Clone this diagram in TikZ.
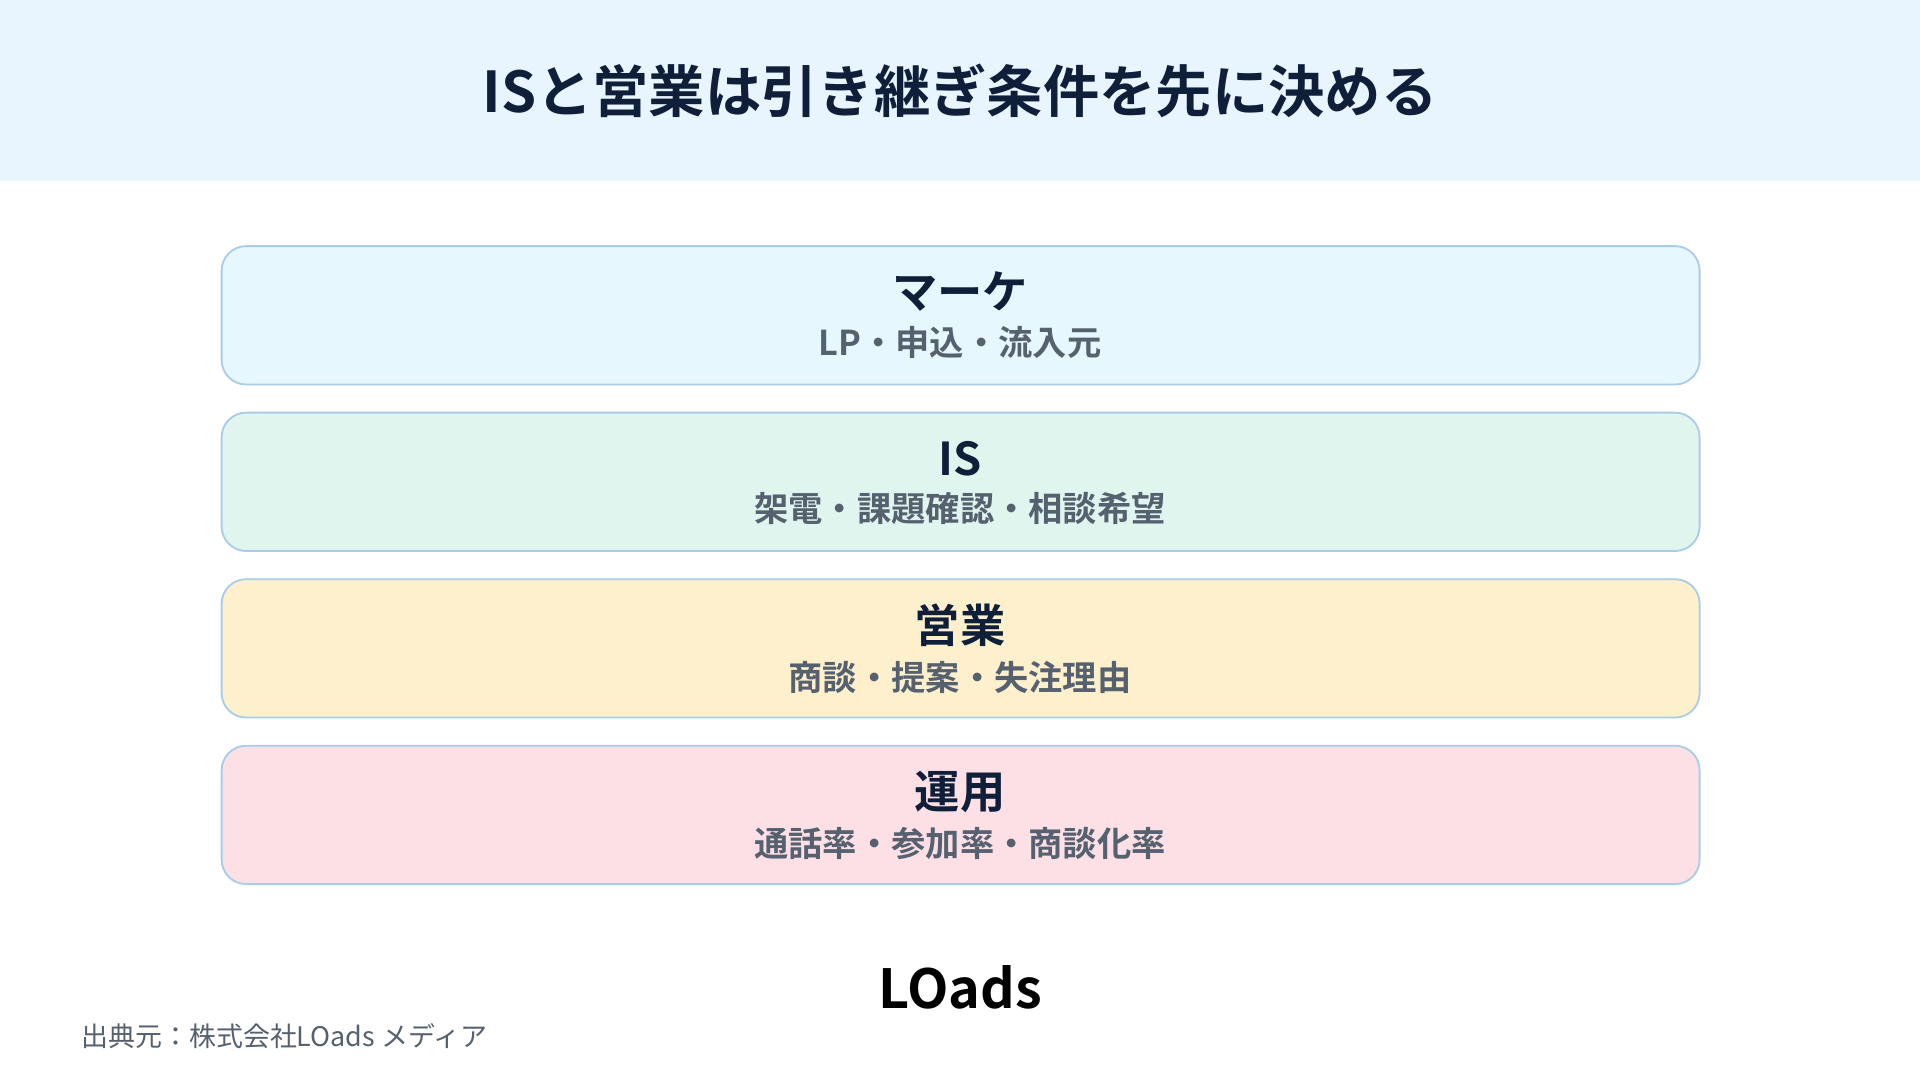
\documentclass[tikz,border=0pt]{standalone}
\usepackage{fontspec}
\setmainfont{Noto Sans CJK JP}
\newfontfamily\jpbold{Noto Sans CJK JP Bold}
\definecolor{navy}{HTML}{0F1F3A}
\definecolor{subg}{HTML}{566170}
\definecolor{bord}{HTML}{A9CCE8}
\definecolor{hdr}{HTML}{E8F5FE}
\definecolor{f1}{HTML}{E6F8FD}
\definecolor{f2}{HTML}{E0F5EE}
\definecolor{f3}{HTML}{FEF0CC}
\definecolor{f4}{HTML}{FDE0E6}
\tikzset{x=1pt,y=-1pt,
 layer/.style={draw=bord,line width=1.5pt,rounded corners=20pt,minimum width=1207pt,minimum height=113pt,inner sep=0pt},
 mainlbl/.style={font=\jpbold\fontsize{37}{40}\selectfont,text=navy},
 sublbl/.style={font=\jpbold\fontsize{28}{32}\selectfont,text=subg}}
\begin{document}
\begin{tikzpicture}
\useasboundingbox (0,0) rectangle (1568,882);
\fill[white] (0,0) rectangle (1568,882);
\fill[hdr] (0,0) rectangle (1568,148);
\node[font=\jpbold\fontsize{46}{50}\selectfont,text=navy] (title) at (784,74) {ISと営業は引き継ぎ条件を先に決める};
\node[layer,fill=f1] (b1) at (784.5,257.5) {};
\node[layer,fill=f2] (b2) at (784.5,393.5) {};
\node[layer,fill=f3] (b3) at (784.5,529.5) {};
\node[layer,fill=f4] (b4) at (784.5,665.5) {};
\node[mainlbl] (m1) at (784,238) {マーケ};
\node[sublbl] (s1) at (784,280) {LP・申込・流入元};
\node[mainlbl] (m2) at (784,375) {IS};
\node[sublbl] (s2) at (784,415) {架電・課題確認・相談希望};
\node[mainlbl] (m3) at (784,511) {営業};
\node[sublbl] (s3) at (784,553) {商談・提案・失注理由};
\node[mainlbl] (m4) at (784,647) {運用};
\node[sublbl] (s4) at (784,689) {通話率・参加率・商談化率};
\node[font=\jpbold\fontsize{44}{48}\selectfont,text=black] (logo) at (784,806) {LOads};
\node[anchor=west,font=\fontsize{22}{26}\selectfont,text=subg] (src) at (63,846) {出典元：株式会社LOads メディア};
\end{tikzpicture}
\end{document}
